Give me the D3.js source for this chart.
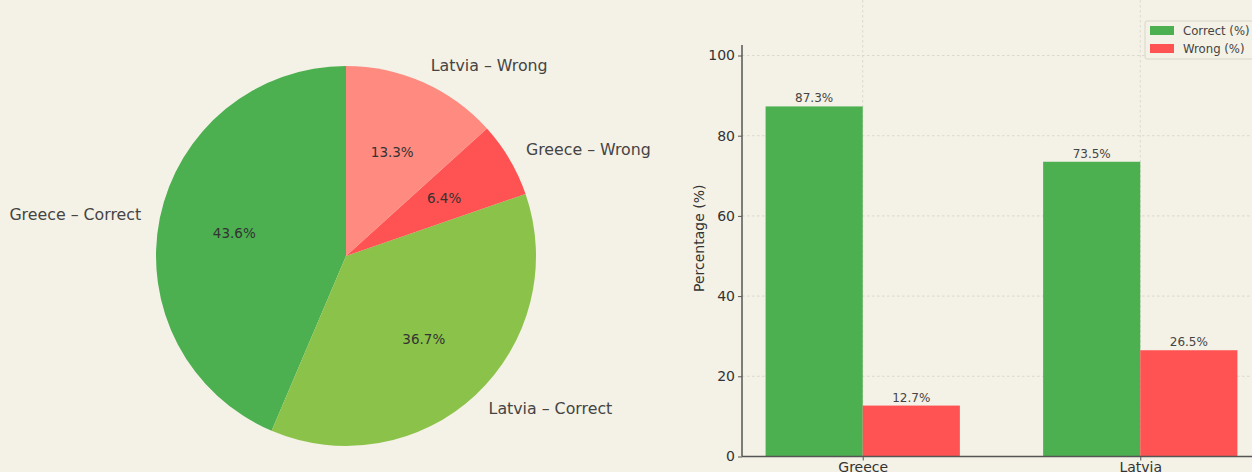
<!DOCTYPE html>
<html>
<head>
<meta charset="utf-8">
<script src="https://cdn.jsdelivr.net/npm/d3@7"></script>
<style>
	body { margin: 0; background: #f4f1e6; }
	svg { display: block; font-family: "DejaVu Sans", sans-serif; }
</style>
</head>
<body>
<div id="chart"></div>
<script>
// countries and answer shares (%)
var countries = ["Greece", "Latvia"];
var correctPct = [87.3, 73.5];
var wrongPct = [12.7, 26.5];
var seriesNames = ["Correct (%)", "Wrong (%)"];
var yTicks = [0, 20, 40, 60, 80, 100];

// pie slices, in drawing order (counter-clockwise from 12 o'clock)
var pieLabels = ["Greece \u2013 Correct", "Latvia \u2013 Correct", "Greece \u2013 Wrong", "Latvia \u2013 Wrong"];
var pieValues = [43.6, 36.7, 6.4, 13.3];
var pieColors = ["#4caf50", "#8bc34a", "#ff5252", "#ff8a80"];

var W = 1252, H = 472;
var svg = d3.select('#chart').append('svg')
	.attr('width', W)
	.attr('height', H);
svg.append('rect').attr('width', W).attr('height', H).attr('fill', '#f4f1e6');

// ---- pie ----
var R = 190;
var pieG = svg.append('g').attr('transform', 'translate(346,256)');
var pie = d3.pie().sort(null).startAngle(0).endAngle(-2 * Math.PI);
var arcs = pie(pieValues);
var arc = d3.arc().innerRadius(0).outerRadius(R);

pieG.selectAll('path.slice')
	.data(arcs)
	.enter().append('path')
	.attr('class', 'slice')
	.attr('d', arc)
	.attr('fill', function(d, i) { return pieColors[i]; });

arcs.forEach(function(d, i) {
	var mid = (d.startAngle + d.endAngle) / 2
		, sx = Math.sin(mid)
		, cy = -Math.cos(mid);
	pieG.append('text')
		.attr('x', sx * R * 1.1)
		.attr('y', cy * R * 1.1)
		.attr('dy', '0.35em')
		.attr('text-anchor', sx > 0 ? 'start' : 'end')
		.attr('font-size', 15.8)
		.attr('fill', '#444')
		.text(pieLabels[i]);
	pieG.append('text')
		.attr('x', sx * R * 0.6)
		.attr('y', cy * R * 0.6)
		.attr('dy', '0.35em')
		.attr('text-anchor', 'middle')
		.attr('font-size', 13.5)
		.attr('fill', '#333')
		.text(d.value.toFixed(1) + '%');
});

// ---- grouped bars ----
var plot = { left: 742, right: 1261, top: 0, bottom: 456.5 };
var x = d3.scaleLinear().domain([-0.435, 1.435]).range([plot.left, plot.right]);
var y = d3.scaleLinear().domain([0, 100]).range([plot.bottom, 55.5]);
var bw = 0.35;
var barG = svg.append('g');

// grid
barG.selectAll('line.hgrid')
	.data(yTicks.slice(1))
	.enter().append('line')
	.attr('x1', plot.left).attr('x2', plot.right)
	.attr('y1', function(d) { return y(d); })
	.attr('y2', function(d) { return y(d); })
	.attr('stroke', '#d4d2c8').attr('stroke-width', 0.8)
	.attr('stroke-dasharray', '2.5,2.5');
barG.selectAll('line.vgrid')
	.data(countries)
	.enter().append('line')
	.attr('x1', function(d, i) { return x(i); })
	.attr('x2', function(d, i) { return x(i); })
	.attr('y1', plot.top).attr('y2', plot.bottom)
	.attr('stroke', '#d4d2c8').attr('stroke-width', 0.8)
	.attr('stroke-dasharray', '2.5,2.5');

var series = [
	{ name: seriesNames[0], values: correctPct, color: '#4caf50', off: -bw / 2 },
	{ name: seriesNames[1], values: wrongPct, color: '#ff5252', off: bw / 2 }
];
series.forEach(function(s) {
	barG.selectAll(null)
		.data(s.values)
		.enter().append('rect')
		.attr('x', function(d, i) { return x(i + s.off - bw / 2); })
		.attr('width', x(bw) - x(0))
		.attr('y', function(d) { return y(d); })
		.attr('height', function(d) { return y(0) - y(d); })
		.attr('fill', s.color);
	barG.selectAll(null)
		.data(s.values)
		.enter().append('text')
		.attr('x', function(d, i) { return x(i + s.off); })
		.attr('y', function(d) { return y(d) - 4; })
		.attr('text-anchor', 'middle')
		.attr('font-size', 12)
		.attr('fill', '#444')
		.text(function(d) { return d.toFixed(1) + '%'; });
});

// axes
var yAxis = d3.axisLeft(y).tickValues(yTicks).tickSize(4).tickPadding(3);
var yg = barG.append('g').attr('transform', 'translate(' + plot.left + ',0)').call(yAxis);
yg.select('.domain').remove();
yg.selectAll('line').attr('stroke', '#555');
yg.selectAll('text').attr('font-size', 14).attr('fill', '#333').attr('font-family', '"DejaVu Sans", sans-serif');
barG.append('line')
	.attr('x1', plot.left).attr('x2', plot.left)
	.attr('y1', 45).attr('y2', plot.bottom)
	.attr('stroke', '#555').attr('stroke-width', 1.5);

var xAxis = d3.axisBottom(x).tickValues([0, 1]).tickFormat(function(d) { return countries[d]; }).tickSize(4).tickPadding(2);
var xg = barG.append('g').attr('transform', 'translate(0,' + plot.bottom + ')').call(xAxis);
xg.select('.domain').remove();
xg.selectAll('line').attr('stroke', '#555');
xg.selectAll('text').attr('font-size', 14).attr('fill', '#333').attr('font-family', '"DejaVu Sans", sans-serif');
barG.append('line')
	.attr('x1', plot.left).attr('x2', plot.right)
	.attr('y1', plot.bottom).attr('y2', plot.bottom)
	.attr('stroke', '#555').attr('stroke-width', 1.5);

svg.append('text')
	.attr('transform', 'translate(704,' + ((plot.bottom + 20) / 2) + ') rotate(-90)')
	.attr('text-anchor', 'middle')
	.attr('font-size', 14)
	.attr('fill', '#333')
	.text('Percentage (%)');

// legend
var lg = svg.append('g').attr('transform', 'translate(1145,21)');
lg.append('rect')
	.attr('width', 115).attr('height', 38).attr('rx', 2)
	.attr('fill', '#f4f1e6').attr('stroke', '#d8d6cc');
series.forEach(function(s, i) {
	lg.append('rect')
		.attr('x', 5).attr('y', 5 + i * 18)
		.attr('width', 24).attr('height', 9)
		.attr('fill', s.color);
	lg.append('text')
		.attr('x', 38).attr('y', 10 + i * 18)
		.attr('dy', '0.35em')
		.attr('font-size', 11.7)
		.attr('fill', '#444')
		.text(s.name);
});
</script>
</body>
</html>
